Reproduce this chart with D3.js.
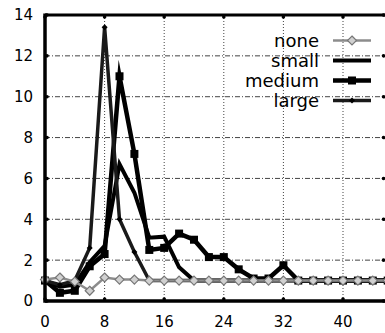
<!DOCTYPE html>
<html><head><meta charset="utf-8">
<script src="https://cdn.jsdelivr.net/npm/d3@7"></script>
<style>
html,body{margin:0;padding:0;background:#fff;}
svg{display:block;}
text{font-family:"DejaVu Sans",sans-serif;fill:#000;}
</style></head>
<body>
<script>
const xs = [0,2,4,6,8,10,12,14,16,18,20,22,24,26,28,30,32,34,36,38,40,42,44,46];
const noneVals   = [1.05,1.15,0.95,0.5,1.15,1.05,1.05,1,1,1,1,1,1,1,1,1,1,1,1,1,1,1,1,1];
const smallVals  = [1.0,0.7,0.8,1.9,2.7,6.7,5.3,3.1,3.15,1.65,1.0,1,1,1,1,1,1,1,1,1,1,1,1,1];
const mediumVals = [1.0,0.4,0.5,1.7,2.3,11.0,7.2,2.5,2.6,3.3,3.0,2.15,2.15,1.55,1.1,1.1,1.75,1.0,1,1,1,1,1,1];
const largeVals  = [1.0,0.8,1.0,2.6,13.4,4.0,2.4,1.0,1,1,1,1,1,1,1,1,1,1,1,1,1,1,1,1];
const seriesNames = ["none","small","medium","large"];
const xTicks = [0,8,16,24,32,40];
const yTicks = [0,2,4,6,8,10,12,14];

const W = 385, H = 333;
const svg = d3.select("body").append("svg").attr("width",W).attr("height",H);
const x = d3.scaleLinear().domain([0,46]).range([45,387.7]);
const y = d3.scaleLinear().domain([0,14]).range([301,15]);

// grid
const g = svg.append("g");
g.selectAll(".hg").data(yTicks.filter(v=>v>0&&v<14)).join("line")
  .attr("x1",x(0)).attr("x2",x(46)).attr("y1",d=>y(d)).attr("y2",d=>y(d))
  .attr("stroke","#444").attr("stroke-width",1).attr("stroke-dasharray","5,2,1,2");
g.selectAll(".vg").data(xTicks.filter(v=>v>0)).join("line")
  .attr("x1",d=>x(d)).attr("x2",d=>x(d)).attr("y1",y(14)).attr("y2",y(0))
  .attr("stroke","#444").attr("stroke-width",1).attr("stroke-dasharray","1,2");

// series
const line = d3.line().x((d,i)=>x(xs[i])).y(d=>y(d));
const styles = {
  none:{vals:noneVals,color:"#8c8c8c",w:2.5},
  small:{vals:smallVals,color:"#000",w:4},
  medium:{vals:mediumVals,color:"#000",w:4.5},
  large:{vals:largeVals,color:"#1a1a1a",w:3.5}
};
const plot = svg.append("g");
function drawSeries(name){
  const s = styles[name];
  plot.append("path").datum(s.vals).attr("d",line).attr("fill","none")
    .attr("stroke",s.color).attr("stroke-width",s.w).attr("stroke-linejoin","miter").attr("stroke-miterlimit",10);
  if(name==="medium"){
    plot.selectAll(null).data(s.vals).join("rect")
      .attr("x",(d,i)=>x(xs[i])-4).attr("y",d=>y(d)-4).attr("width",8).attr("height",8).attr("fill","#000");
  } else if(name==="large"){
    plot.selectAll(null).data(s.vals).join("path")
      .attr("d",(d,i)=>`M${x(xs[i])},${y(d)-3}l3,3l-3,3l-3,-3z`).attr("fill","#000");
  } else if(name==="none"){
    plot.selectAll(null).data(s.vals).join("path")
      .attr("d",(d,i)=>`M${x(xs[i])},${y(d)-4.5}l4.5,4.5l-4.5,4.5l-4.5,-4.5z`)
      .attr("fill","#d0d0d0").attr("stroke","#777").attr("stroke-width",1.2);
  }
}
["small","medium","large","none"].forEach(drawSeries);

// axes frame
svg.append("line").attr("x1",x(0)).attr("x2",W).attr("y1",y(14)).attr("y2",y(14)).attr("stroke","#000").attr("stroke-width",3);
svg.append("line").attr("x1",x(0)).attr("x2",W).attr("y1",y(0)).attr("y2",y(0)).attr("stroke","#000").attr("stroke-width",3.5);
svg.append("line").attr("x1",x(0)).attr("x2",x(0)).attr("y1",y(14)-1.5).attr("y2",y(0)+1.7).attr("stroke","#000").attr("stroke-width",3.5);

// tick dots
svg.selectAll(".yd").data(yTicks).join("circle").attr("cx",x(0)+2).attr("cy",d=>y(d)).attr("r",1.8).attr("fill","#000");
svg.selectAll(".yd2").data(yTicks).join("circle").attr("cx",383.5).attr("cy",d=>y(d)).attr("r",1.8).attr("fill","#000");
svg.selectAll(".xd").data(xTicks).join("circle").attr("cx",d=>x(d)).attr("cy",y(0)-2).attr("r",1.8).attr("fill","#000");
svg.selectAll(".xd2").data(xTicks).join("circle").attr("cx",d=>x(d)).attr("cy",y(14)+2).attr("r",1.8).attr("fill","#000");

// tick labels
svg.selectAll(".yl").data(yTicks).join("text").attr("x",33).attr("y",d=>y(d)).attr("dy","0.36em")
  .attr("text-anchor","end").attr("font-size",15).text(d=>d);
svg.selectAll(".xl").data(xTicks).join("text").attr("x",d=>x(d)).attr("y",327)
  .attr("text-anchor","middle").attr("font-size",15).text(d=>d);

// legend
const leg = svg.append("g");
seriesNames.forEach((name,i)=>{
  const by = 46.5 + i*20, ly = 40.5 + i*20;
  leg.append("text").attr("x",319).attr("y",by).attr("text-anchor","end").attr("font-size",18).text(name);
  const s = styles[name];
  leg.append("line").attr("x1",333).attr("x2",371).attr("y1",ly).attr("y2",ly)
    .attr("stroke",s.color).attr("stroke-width",s.w);
  if(name==="medium") leg.append("rect").attr("x",348).attr("y",ly-4).attr("width",8).attr("height",8).attr("fill","#000");
  if(name==="large") leg.append("path").attr("d",`M352,${ly-3}l3,3l-3,3l-3,-3z`).attr("fill","#000");
  if(name==="none") leg.append("path").attr("d",`M352,${ly-4.5}l4.5,4.5l-4.5,4.5l-4.5,-4.5z`)
    .attr("fill","#d0d0d0").attr("stroke","#777").attr("stroke-width",1.2);
});
</script>
</body></html>
